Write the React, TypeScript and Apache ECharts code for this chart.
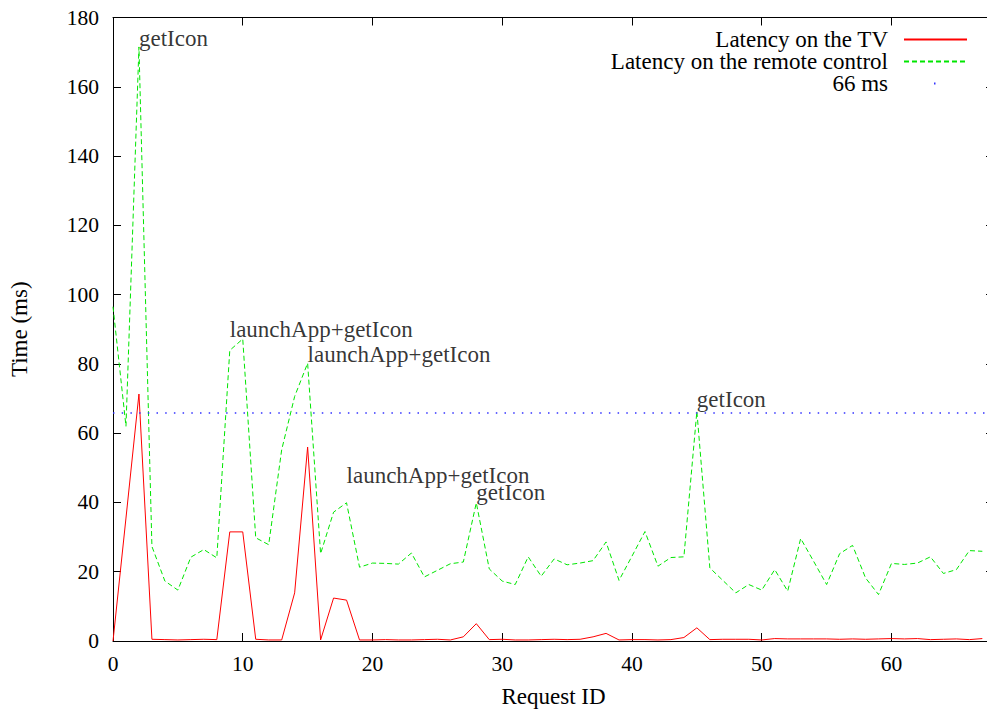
import React, { useEffect, useRef } from "react";
import * as echarts from "echarts";

const requestIds = [
  0, 1, 2, 3, 4, 5, 6, 7, 8, 9, 10, 11, 12, 13, 14, 15, 16, 17, 18, 19, 20, 21, 22, 23, 24, 25, 26, 27, 28, 29, 30, 31, 32, 33,
  34, 35, 36, 37, 38, 39, 40, 41, 42, 43, 44, 45, 46, 47, 48, 49, 50, 51, 52, 53, 54, 55, 56, 57, 58, 59, 60, 61, 62, 63, 64, 65, 66, 67,
];

const tvLatency = [
  0, 35.5, 71.3, 0.5, 0.4, 0.3, 0.4, 0.5, 0.4, 31.5, 31.5, 0.5, 0.3, 0.3, 13.9, 56.0, 0.3, 12.4, 11.8, 0.3, 0.3, 0.4, 0.3, 0.3,
  0.4, 0.5, 0.3, 1.2, 5.0, 0.4, 0.5, 0.3, 0.3, 0.4, 0.5, 0.4, 0.5, 1.2, 2.2, 0.3, 0.4, 0.4, 0.3, 0.4, 1.0, 3.8, 0.4, 0.5,
  0.5, 0.5, 0.3, 0.7, 0.6, 0.6, 0.6, 0.6, 0.5, 0.6, 0.5, 0.6, 0.7, 0.6, 0.7, 0.4, 0.5, 0.6, 0.4, 0.7,
];

const remoteLatency = [
  96.5, 62, 171.5, 27.3, 17.3, 14.7, 24.2, 26.4, 24.0, 83.9, 87.2, 29.8, 27.8, 55.2, 70.6, 80.2, 25.2, 37.2, 39.9, 21.3,
  22.5, 22.4, 22.2, 25.4, 18.5, 20.4, 22.3, 22.8, 39.9, 20.8, 17.3, 16.3, 24.3, 18.7, 23.7, 22.0, 22.5, 23.2, 28.6, 17.5,
  24.5, 31.6, 21.6, 24.1, 24.3, 66.3, 21.1, 17.5, 13.9, 16.3, 14.7, 20.6, 14.4, 29.6, 23.0, 16.3, 25.2, 27.6, 18.2, 13.4,
  22.4, 22.1, 22.5, 24.3, 19.5, 20.6, 26.1, 25.9,
];

const thresholdMs = 66;

const annotX = [2, 9, 15, 18, 28, 45];
const annotY = [174, 90, 82.6, 47.7, 42.8, 69.7];
const annotText = ["getIcon", "launchApp+getIcon", "launchApp+getIcon", "launchApp+getIcon", "getIcon", "getIcon"];

const seriesNames = ["Latency on the TV", "Latency on the remote control", "66 ms"];

const FONT = "Liberation Serif";

export default function App() {
  const ref = useRef<HTMLDivElement>(null);

  useEffect(() => {
    if (!ref.current) return;
    document.body.style.margin = "0";
    document.body.style.overflow = "hidden";
    const chart = echarts.init(ref.current, null, { renderer: "svg" });

    const xMax = 67.9;
    const axisCommon = {
      axisLine: { show: true, onZero: false, lineStyle: { color: "#000", width: 1 } },
      axisTick: { show: true, inside: true, length: 8, lineStyle: { color: "#000", width: 1 } },
      splitLine: { show: false },
    };

    const legendCommon = {
      orient: "vertical",
      right: 26,
      align: "right",
      itemWidth: 63,
      itemHeight: 14,
      padding: 0,
      selectedMode: false,
      itemStyle: { opacity: 0 },
      textStyle: { fontSize: 23, color: "#000", fontFamily: FONT, padding: [0, 11, 0, 0] },
    };

    const option = {
      animation: false,
      textStyle: { fontFamily: FONT },
      grid: { left: 113, right: 0, top: 17.5, bottom: 71.5, show: false },
      xAxis: [
        {
          type: "value",
          min: 0,
          max: xMax,
          interval: 10,
          position: "bottom",
          ...axisCommon,
          axisLabel: { color: "#000", fontSize: 21.5, margin: 12, fontFamily: FONT, showMaxLabel: false },
          name: "Request ID",
          nameLocation: "middle",
          nameGap: 44,
          nameTextStyle: { fontSize: 23, color: "#000", fontFamily: FONT },
        },
        {
          type: "value",
          min: 0,
          max: xMax,
          interval: 10,
          position: "top",
          ...axisCommon,
          axisLabel: { show: false },
        },
      ],
      yAxis: [
        {
          type: "value",
          min: 0,
          max: 180,
          interval: 20,
          position: "left",
          ...axisCommon,
          axisLabel: { color: "#000", fontSize: 21.5, margin: 14, fontFamily: FONT },
          name: "Time (ms)",
          nameLocation: "middle",
          nameGap: 82,
          nameTextStyle: { fontSize: 23, color: "#000", fontFamily: FONT },
        },
        {
          type: "value",
          min: 0,
          max: 180,
          interval: 20,
          position: "right",
          ...axisCommon,
          axisLabel: { show: false },
        },
      ],
      legend: [
        { ...legendCommon, top: 28, data: [seriesNames[0]] },
        { ...legendCommon, top: 50, data: [seriesNames[1]] },
        {
          ...legendCommon,
          top: 72,
          data: [seriesNames[2]],
          lineStyle: { type: [1.5, 80], dashOffset: -30 },
        },
      ],
      series: [
        {
          name: seriesNames[0],
          type: "line",
          data: requestIds.map((x, i) => [x, tvLatency[i]]),
          symbol: "none",
          lineStyle: { color: "#ff0000", width: 1 },
          itemStyle: { color: "#ff0000" },
          z: 3,
        },
        {
          name: seriesNames[1],
          type: "line",
          data: requestIds.map((x, i) => [x, remoteLatency[i]]),
          symbol: "none",
          lineStyle: { color: "#00e600", width: 1, type: [5, 3] },
          itemStyle: { color: "#00e600" },
          z: 4,
        },
        {
          name: seriesNames[2],
          type: "line",
          data: [],
          symbol: "none",
          lineStyle: { color: "#3333ff", width: 1.5, type: [1.5, 7.2] },
          itemStyle: { color: "#3333ff" },
          z: 5,
          markLine: {
            silent: true,
            symbol: "none",
            label: { show: false },
            lineStyle: { color: "#3333ff", width: 1.5, type: [1.5, 7.2] },
            data: [{ yAxis: thresholdMs }],
          },
        },
        {
          name: "annotations",
          type: "scatter",
          data: annotX.map((x, i) => [x, annotY[i], annotText[i]]),
          symbolSize: 0,
          silent: true,
          z: 10,
          label: {
            show: true,
            position: "right",
            distance: 0,
            formatter: (p: any) => p.value[2],
            color: "#000",
            fontSize: 23,
            fontFamily: FONT,
          },
        },
      ],
    };

    chart.setOption(option as any);
    return () => chart.dispose();
  }, []);

  return (
    <div
      ref={ref}
      style={{ position: "fixed", left: 0, top: 0, width: 994, height: 713, background: "#fff" }}
    />
  );
}
